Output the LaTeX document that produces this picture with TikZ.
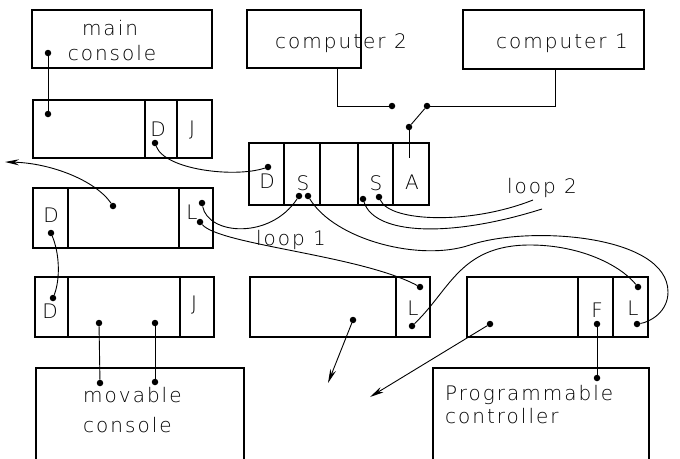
\documentclass[tikz,border=0pt]{standalone}
\usepackage{fontspec}
\newfontfamily\hand[LetterSpace=10]{DejaVu Sans ExtraLight}
\usetikzlibrary{arrows.meta}
\begin{document}
\begin{tikzpicture}[x=1pt,y=-1pt,
 box/.style={draw, line width=1.8pt, rectangle, inner sep=0pt},
 cellline/.style={line width=1.6pt},
 wire/.style={line width=0.9pt},
 dot/.style={circle, fill, inner sep=0pt, minimum size=6.5pt},
 lbl/.style={font=\hand\fontsize{20}{24}\selectfont, inner sep=0pt},
 arr/.style={wire, -{Stealth[length=14pt,width=6pt]}}]
\useasboundingbox (0,0) rectangle (680,458);
\clip (0,0) rectangle (680,458);
% boxes
\node[box, minimum width=180pt, minimum height=58pt] (mc) at (122,39) {};
\node[box, minimum width=114pt, minimum height=58pt] (c2) at (304,39) {};
\node[box, minimum width=181pt, minimum height=59pt] (c1) at (553.5,39.5) {};
\node[box, minimum width=179pt, minimum height=58pt] (r1) at (122.5,129) {};
\node[box, minimum width=180pt, minimum height=62pt] (sb) at (339,174) {};
\node[box, minimum width=180pt, minimum height=60pt] (r2) at (123,218) {};
\node[box, minimum width=179pt, minimum height=60pt] (r3l) at (124.5,307) {};
\node[box, minimum width=180pt, minimum height=60pt] (r3m) at (340,307) {};
\node[box, minimum width=181pt, minimum height=60pt] (r3r) at (557.5,307) {};
\node[box, minimum width=208pt, minimum height=122pt] (mv) at (140,429) {};
\node[box, minimum width=216pt, minimum height=122pt] (pc) at (541,429) {};
% cell dividers
\foreach \x in {145,177} \draw[cellline] (\x,100) -- (\x,158);
\foreach \x in {284,320,358,393} \draw[cellline] (\x,143) -- (\x,205);
\foreach \x in {68,179} \draw[cellline] (\x,188) -- (\x,248);
\foreach \x in {68,180} \draw[cellline] (\x,277) -- (\x,337);
\draw[cellline] (396,277) -- (396,337);
\foreach \x in {578,613} \draw[cellline] (\x,277) -- (\x,337);
% texts
\node[lbl, anchor=base] (t1) at (110,35) {main};
\node[lbl, anchor=base] (t2) at (112,60) {console};
\node[lbl, anchor=base] (t3) at (341,48) {computer 2};
\node[lbl, anchor=base] (t4) at (562,48) {computer 1};
\node[lbl, anchor=base] (t5) at (291,245) {loop 1};
\node[lbl, anchor=base] (t6) at (542,193) {loop 2};
\node[lbl, anchor=base west] (t7) at (83,402) {movable};
\node[lbl, anchor=base west] (t8) at (83,432) {console};
\node[lbl, anchor=base west] (t9) at (445,400) {Programmable};
\node[lbl, anchor=base west] (t10) at (445,423) {controller};
% cell letters
\node[lbl] (k1) at (158,129) {D};
\node[lbl] (k2) at (192,130) {J};
\node[lbl] (k3) at (267,181) {D};
\node[lbl] (k4) at (303,183) {S};
\node[lbl] (k5) at (376,183) {S};
\node[lbl] (k6) at (412,182) {A};
\node[lbl] (k7) at (51,215) {D};
\node[lbl] (k8) at (192,212) {L};
\node[lbl] (k9) at (50,311) {D};
\node[lbl] (k10) at (194,305) {J};
\node[lbl] (k11) at (413,308) {L};
\node[lbl] (k12) at (597,310) {F};
\node[lbl] (k13) at (633,308) {L};
% dots
\node[dot] (mcd) at (48,53) {};
\node[dot] (r1a) at (48,114) {};
\node[dot] (r1D) at (155,143) {};
\node[dot] (sbD) at (268,167) {};
\node[dot] (sw1) at (392,106) {};
\node[dot] (sw2) at (427,106) {};
\node[dot] (sw3) at (409,127) {};
\node[dot] (sbS1a) at (299,196) {};
\node[dot] (sbS1b) at (308,196) {};
\node[dot] (sbS2a) at (363,199) {};
\node[dot] (sbS2b) at (379,197) {};
\node[dot] (r2c) at (113,206) {};
\node[dot] (r2D) at (51,233) {};
\node[dot] (r2L1) at (202,203) {};
\node[dot] (r2L2) at (200,222) {};
\node[dot] (r3D) at (53,298) {};
\node[dot] (r3a) at (99,323) {};
\node[dot] (r3b) at (155,323) {};
\node[dot] (mva) at (100,383) {};
\node[dot] (mvb) at (155,382) {};
\node[dot] (r3mL1) at (420,287) {};
\node[dot] (r3mL2) at (412,326) {};
\node[dot] (r3mc) at (353,320) {};
\node[dot] (r3rL1) at (638,287) {};
\node[dot] (r3rL2) at (637,324) {};
\node[dot] (r3rF) at (597,324) {};
\node[dot] (r3rc) at (490,324) {};
\node[dot] (pcd) at (597,378) {};
% free ends
\coordinate (c2o) at (337,68);
\coordinate (c1o) at (555,69);
\coordinate (aend) at (409,158);
\coordinate (tipL) at (5,162);
\coordinate (tipM) at (328,383);
\coordinate (tipR) at (370,397);
\coordinate (l2a) at (542,209);
\coordinate (l2b) at (533,200);
% connectors
\draw[wire] (c2o) |- (sw1);
\draw[wire] (sw2) -| (c1o);
\draw[wire] (sw3) -- (sw2);
\draw[wire] (sw3) -- (aend);
\draw[wire] (mcd) -- (r1a);
\draw[wire] (r1D) .. controls (165,170) and (235,178) .. (sbD);
\draw[arr] (r2c) .. controls (95,180) and (50,163) .. (tipL);
\draw[wire] (r2D) .. controls (60,255) and (60,280) .. (r3D);
\draw[wire] (r2L1) .. controls (208,235) and (270,240) .. (sbS1a);
\draw[wire] (r2L2) .. controls (220,245) and (360,255) .. (r3mL1);
\draw[wire] (sbS1b) .. controls (335,240) and (420,262) .. (470,245) .. controls (530,225) and (668,235) .. (668,292) .. controls (668,312) and (650,322) .. (r3rL2);
\draw[wire] (r3mL2) .. controls (450,290) and (460,245) .. (530,245) .. controls (580,245) and (620,265) .. (r3rL1);
\draw[wire] (sbS2a) .. controls (375,235) and (450,238) .. (l2a);
\draw[wire] (sbS2b) .. controls (390,222) and (470,225) .. (l2b);
\draw[arr] (r3mc) -- (tipM);
\draw[arr] (r3rc) -- (tipR);
\draw[wire] (r3a) -- (mva);
\draw[wire] (r3b) -- (mvb);
\draw[wire] (r3rF) -- (pcd);
\end{tikzpicture}
\end{document}
